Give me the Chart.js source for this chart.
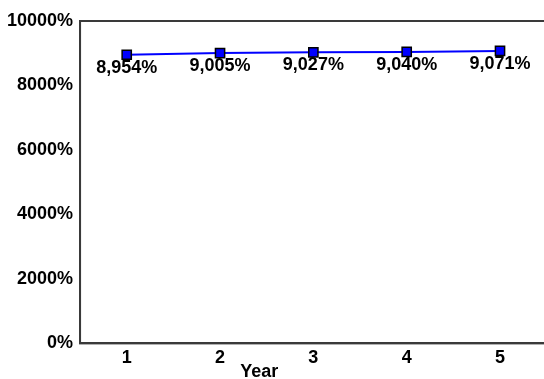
<!DOCTYPE html>
<html>
<head>
<meta charset="utf-8">
<script src="https://cdn.jsdelivr.net/npm/chart.js@4/dist/chart.umd.min.js"></script>
<style>
  html, body { margin: 0; padding: 0; background: #fff; overflow: hidden; }
  #wrap { width: 620px; height: 379px; }
</style>
</head>
<body>
<div id="wrap"><canvas id="c" width="620" height="379"></canvas></div>
<script>
// Yearly values, in percent
const years = ['1', '2', '3', '4', '5'];
const values = [8954, 9005, 9027, 9040, 9071];
const yTicks = [0, 2000, 4000, 6000, 8000, 10000];

const FONT = { family: 'Liberation Sans, Arial, sans-serif', size: 18, weight: 'bold' };
const fmt = v => v.toLocaleString('en-US') + '%';

// Value labels under each point
const valueLabels = {
  id: 'valueLabels',
  afterDatasetsDraw(chart) {
    const ctx = chart.ctx;
    const meta = chart.getDatasetMeta(0);
    ctx.save();
    ctx.font = `bold ${FONT.size}px ${FONT.family}`;
    ctx.fillStyle = '#000';
    ctx.textAlign = 'center';
    ctx.textBaseline = 'middle';
    meta.data.forEach((pt, i) => {
      ctx.fillText(fmt(values[i]), pt.x, pt.y + 13);
    });
    ctx.restore();
  }
};

// Box round the plot area and the axis caption
const frame = {
  id: 'frame',
  beforeDatasetsDraw(chart) {
    const { ctx, chartArea: a } = chart;
    ctx.save();
    ctx.strokeStyle = '#3a3a3a';
    ctx.lineWidth = 2;
    ctx.strokeRect(a.left, a.top, a.right - a.left, a.bottom - a.top);
    ctx.restore();
  },
  afterDraw(chart) {
    const ctx = chart.ctx;
    const x = chart.scales.x.getPixelForValue(2.42);
    ctx.save();
    ctx.font = `bold ${FONT.size}px ${FONT.family}`;
    ctx.fillStyle = '#000';
    ctx.textAlign = 'center';
    ctx.textBaseline = 'alphabetic';
    ctx.fillText('Year', x, 377);
    ctx.restore();
  }
};

new Chart(document.getElementById('c'), {
  type: 'line',
  data: {
    datasets: [{
      data: values.map((v, i) => ({ x: i + 1, y: v })),
      borderColor: '#0000ff',
      borderWidth: 2,
      backgroundColor: '#0000ff',
      pointStyle: 'rect',
      pointRadius: 6.5,
      pointHoverRadius: 6.5,
      pointBorderColor: '#000',
      pointBorderWidth: 1.5,
      tension: 0
    }]
  },
  options: {
    responsive: false,
    animation: false,
    events: [],
    layout: { padding: { top: 21, right: 8, bottom: 6, left: 0 } },
    plugins: { legend: { display: false }, tooltip: { enabled: false }, title: { display: false } },
    scales: {
      x: {
        type: 'linear',
        min: 0.5,
        max: 6.2,
        afterBuildTicks: s => { s.ticks = years.map((_, i) => ({ value: i + 1 })); },
        grid: { display: false, drawTicks: false },
        border: { display: true, color: '#3a3a3a', width: 2 },
        ticks: { font: FONT, color: '#000', padding: 4, maxRotation: 0,
                 callback: v => years[v - 1] }
      },
      y: {
        min: 0,
        max: 10000,
        afterBuildTicks: s => { s.ticks = yTicks.map(v => ({ value: v })); },
        grid: { display: false, drawTicks: false },
        border: { display: true, color: '#3a3a3a', width: 2 },
        ticks: { font: FONT, color: '#000', padding: 7, callback: v => v + '%' }
      }
    }
  },
  plugins: [valueLabels, frame]
});
</script>
</body>
</html>
